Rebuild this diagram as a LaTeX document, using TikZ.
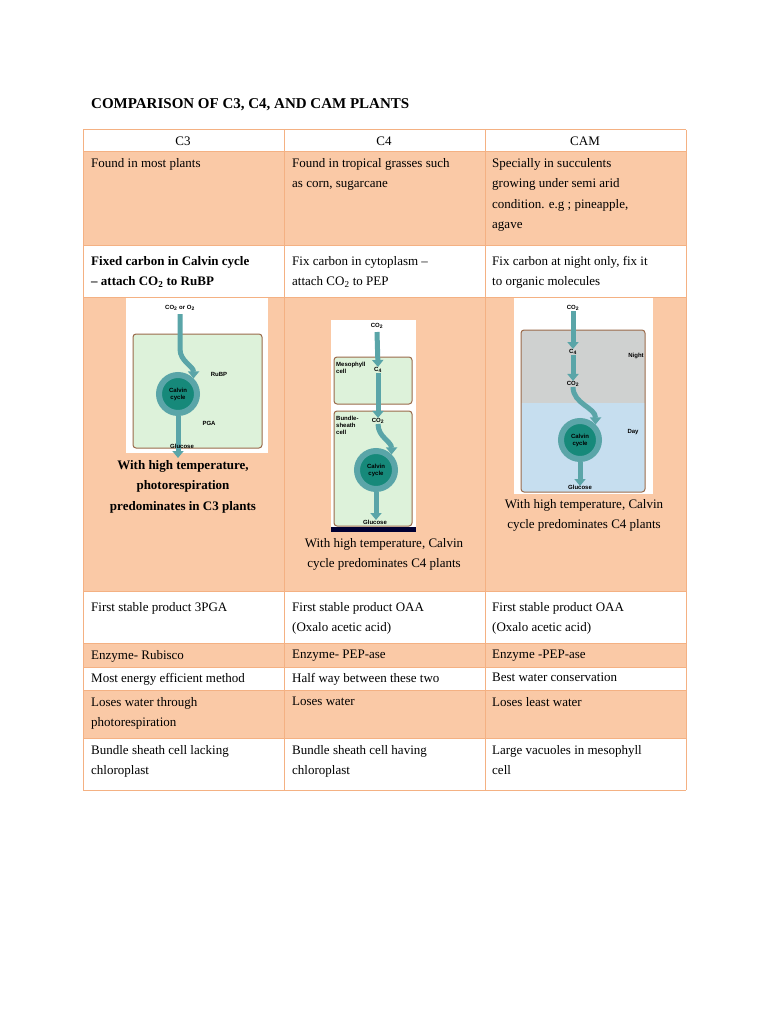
\documentclass[tikz,border=0pt]{standalone}
\usepackage{fontspec}
\setmainfont{Liberation Serif}
\setsansfont{Liberation Sans}
\usetikzlibrary{arrows.meta}
\definecolor{rowor}{HTML}{FAC9A6}
\definecolor{rule}{HTML}{F4B183}
\definecolor{cellgr}{HTML}{DDF2DA}
\definecolor{cellbr}{HTML}{9A6A4A}
\definecolor{ring}{HTML}{5AA5A8}
\definecolor{core}{HTML}{16897A}
\definecolor{nightg}{HTML}{CFD1D0}
\definecolor{dayb}{HTML}{C6DEEF}
\newcommand\fs{\fontsize{13}{20.5}\selectfont}
\newcommand\minilab{\fontsize{6}{7}\sffamily\bfseries}
\tikzset{
  txt/.style={anchor=north west,align=left,inner sep=0pt,font=\fs},
  ctr/.style={anchor=north,align=center,inner sep=0pt,font=\fs},
  lab/.style={inner sep=0pt,font=\minilab,align=left},
  cellbox/.style={draw=cellbr,line width=1pt,rounded corners=3pt,fill=cellgr},
  flow/.style={ring,line width=5pt,-{Triangle[width=11pt,length=7pt]}},
  cyc/.style={circle,fill=core,draw=ring,line width=6pt,minimum size=38pt,inner sep=0pt,font=\minilab,align=center}
}
\begin{document}
\begin{tikzpicture}[x=1pt,y=-1pt]
\fill[white] (0,0) rectangle (768,1024);
\useasboundingbox (0,0) rectangle (768,1024);
%title
\node[anchor=base west,inner sep=0pt,font=\fontsize{15}{18}\selectfont\bfseries] (title) at (91,109) {COMPARISON OF C3, C4, AND CAM PLANTS};
%orange rows
\foreach \ya/\yb in {152/245,297/591,643/667,690/738}
  \fill[rowor] (83,\ya) rectangle (686,\yb);
%grid
\foreach \y in {130,152,245,297,591,643,667,690,738,790}
  \draw[rule,line width=1pt] (83,\y) -- (686,\y);
\foreach \x in {83,284,485,686}
  \draw[rule,line width=1pt] (\x,130) -- (\x,790);
%header
\node[anchor=base,font=\fs] (h3) at (183,146) {C3};
\node[anchor=base,font=\fs] (h4) at (384,146) {C4};
\node[anchor=base,font=\fs] (hc) at (585,146) {CAM};
%rows
\node[txt] (a1) at (91,158) {Found in most plants};
\node[txt] (a2) at (292,158) {Found in tropical grasses such\\as corn, sugarcane};
\node[txt] (a3) at (492,158) {Specially in succulents\\growing under semi arid\\condition. e.g ; pineapple,\\agave};
\node[txt,font=\fs\bfseries] (b1) at (91,256) {Fixed carbon in Calvin cycle\\-- attach CO\textsubscript{2} to RuBP};
\node[txt] (b2) at (292,256) {Fix carbon in cytoplasm --\\attach CO\textsubscript{2} to PEP};
\node[txt] (b3) at (492,256) {Fix carbon at night only, fix it\\to organic molecules};
\node[txt] (c1) at (91,602) {First stable product 3PGA};
\node[txt] (c2) at (292,602) {First stable product OAA\\(Oxalo acetic acid)};
\node[txt] (c3) at (492,602) {First stable product OAA\\(Oxalo acetic acid)};
\node[txt] (d1) at (91,650) {Enzyme- Rubisco};
\node[txt] (d2) at (292,650) {Enzyme- PEP-ase};
\node[txt] (d3) at (492,650) {Enzyme -PEP-ase};
\node[txt] (e1) at (91,673) {Most energy efficient method};
\node[txt] (e2) at (292,673) {Half way between these two};
\node[txt] (e3) at (492,673) {Best water conservation};
\node[txt] (f1) at (91,697) {Loses water through\\photorespiration};
\node[txt] (f2) at (292,697) {Loses water};
\node[txt] (f3) at (492,697) {Loses least water};
\node[txt] (g1) at (91,745) {Bundle sheath cell lacking\\chloroplast};
\node[txt] (g2) at (292,745) {Bundle sheath cell having\\chloroplast};
\node[txt] (g3) at (492,745) {Large vacuoles in mesophyll\\cell};
%C3 picture
\fill[white] (126,298) rectangle (268,453);
\draw[cellbox] (133,334) rectangle (262,448);
\node[lab] (co2a) at (180,308) {CO\textsubscript{2} or O\textsubscript{2}};
\node[cyc] (cal3) at (178,394) {Calvin\\cycle};
\draw[flow] (co2a.south) ++(0,3) -- ++(0,35) to[out=-90,in=90] (cal3.north east);
\draw[flow] (cal3.south) -- ++(0,42);
\node[lab] (rubp) at (219,374) {RuBP};
\node[lab] (pga) at (209,423) {PGA};
\node[lab] (glu3) at (182,446) {Glucose};
\node[ctr,font=\fs\bfseries] (cap3) at (183,460) {With high temperature,\\photorespiration\\predominates in C3 plants};
%C4 picture
\fill[white] (331,320) rectangle (416,532);
\fill[black!80!blue] (331,527) rectangle (416,532);
\draw[cellbox] (334,357) rectangle (412,404);
\draw[cellbox] (334,411) rectangle (412,526);
\node[lab] (co2b) at (377,326) {CO\textsubscript{2}};
\node[lab,anchor=north west] (meso) at (336,362) {Mesophyll\\cell};
\node[lab] (c4b) at (378,370) {C\textsubscript{4}};
\node[lab,anchor=north west] (bund) at (336,416) {Bundle-\\sheath\\cell};
\node[lab] (co2c) at (378,421) {CO\textsubscript{2}};
\node[cyc] (cal4) at (376,470) {Calvin\\cycle};
\draw[flow] (co2b.south) ++(0,3) -- (c4b.north);
\draw[flow] (c4b.south) -- (co2c.north);
\draw[flow] (co2c.south) to[out=-90,in=90] (cal4.north east);
\draw[flow] (cal4.south) -- ++(0,28);
\node[lab] (glu4) at (375,522) {Glucose};
\node[ctr] (cap4) at (384,538) {With high temperature, Calvin\\cycle predominates C4 plants};
%CAM picture
\fill[white] (514,298) rectangle (653,494);
\begin{scope}
\clip[rounded corners=3pt] (521,330) rectangle (645,492);
\fill[nightg] (521,330) rectangle (645,403);
\fill[dayb] (521,403) rectangle (645,492);
\end{scope}
\draw[cellbr,line width=1pt,rounded corners=3pt] (521,330) rectangle (645,492);
\node[lab] (co2d) at (573,308) {CO\textsubscript{2}};
\node[lab] (c4c) at (573,352) {C\textsubscript{4}};
\node[lab] (co2e) at (573,384) {CO\textsubscript{2}};
\node[lab] (night) at (636,356) {Night};
\node[lab] (day) at (633,432) {Day};
\node[cyc] (calc) at (580,440) {Calvin\\cycle};
\draw[flow] (co2d.south) -- (c4c.north);
\draw[flow] (c4c.south) -- (co2e.north);
\draw[flow] (co2e.south) to[out=-90,in=90] (calc.north east);
\draw[flow] (calc.south) -- ++(0,24);
\node[lab] (gluc) at (580,487) {Glucose};
\node[ctr] (capc) at (584,499) {With high temperature, Calvin\\cycle predominates C4 plants};
\end{tikzpicture}
\end{document}
